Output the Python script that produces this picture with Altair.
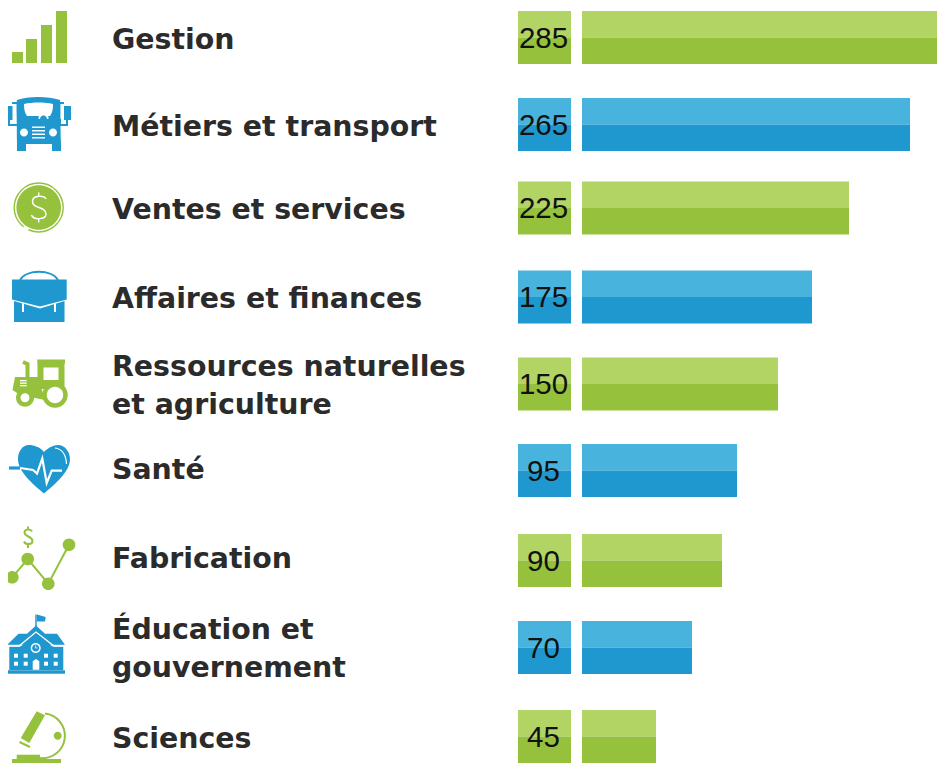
import altair as alt
import pandas as pd

# ---- data
categories = ["Gestion", "Métiers et transport", "Ventes et services", "Affaires et finances",
              "Ressources naturelles\net agriculture", "Santé", "Fabrication",
              "Éducation et\ngouvernement", "Sciences"]
values = [285, 265, 225, 175, 150, 95, 90, 70, 45]
bar_lengths = [363, 328, 267, 230, 196, 155, 140, 110, 74]
families = ["g", "b", "g", "b", "g", "b", "g", "b", "g"]
row_index = list(range(9))
label_rows = [0, 1, 2, 3, 3.78, 4.97, 5.96, 6.776, 8]

GREEN_L, GREEN_D = "#b2d465", "#95c13c"
BLUE_L, BLUE_D = "#48b4de", "#1e98cf"
LIGHT = {"g": GREEN_L, "b": BLUE_L}
DARK = {"g": GREEN_D, "b": BLUE_D}

row_px = [29.5, 116.5, 200, 289, 376, 462.5, 552.5, 639.5, 728.5]
ICON_CX, ICON_X = 37, 29


def icon_paths():
    parts = []

    def origin(row):
        return ICON_CX, row_px[row] + 8

    def add(row, path, fill=None, stroke=None, sw=0):
        parts.append(dict(row=row, path=path, fill=fill or "transparent",
                          stroke=stroke or "transparent", sw=sw))

    def P(row, x, y):
        ox, oy = origin(row)
        return f"{x-ox:.2f},{y-oy:.2f}"

    def poly(row, pts, **kw):
        add(row, "M" + " L".join(P(row, x, y) for x, y in pts) + " Z", **kw)

    def line(row, pts, **kw):
        add(row, "M" + " L".join(P(row, x, y) for x, y in pts), **kw)

    def rect(row, x0, y0, x1, y1, **kw):
        poly(row, [(x0, y0), (x1, y0), (x1, y1), (x0, y1)], **kw)

    def circ(row, cx, cy, r, **kw):
        add(row, f"M{P(row,cx-r,cy)} A{r},{r} 0 1 1 {P(row,cx+r,cy)} A{r},{r} 0 1 1 {P(row,cx-r,cy)} Z", **kw)

    def curve(row, start, segs, closed=False, **kw):
        d = "M" + P(row, *start)
        for a, b, c in segs:
            d += " C" + " ".join(P(row, *p) for p in (a, b, c))
        add(row, d + (" Z" if closed else ""), **kw)

    W = "#ffffff"
    # Gestion
    g = GREEN_D
    for x0, y0 in [(12, 52), (26, 39), (41, 25), (56, 11)]:
        rect(0, x0, y0, x0 + 11, 63, fill=g)
    # Bus
    b = BLUE_D
    rect(1, 6, 106, 12.5, 120, fill=b)
    rect(1, 64, 106, 71, 120, fill=b)
    line(1, [(12, 103), (17, 103)], stroke=b, sw=2)
    line(1, [(59, 103), (64, 103)], stroke=b, sw=2)
    line(1, [(9, 120), (9, 125), (17, 125)], stroke=b, sw=2)
    line(1, [(67, 120), (67, 125), (60, 125)], stroke=b, sw=2)
    curve(1, (17, 144), [((17, 110), (16, 105), (17, 100)),
                         ((28, 96), (48, 96), (60, 100)),
                         ((61, 105), (60, 110), (61, 144))], closed=True, fill=b)
    rect(1, 17, 143, 26, 151, fill=b)
    rect(1, 52, 143, 61, 151, fill=b)
    curve(1, (24, 104), [((33, 102), (44, 102), (53, 104)),
                         ((53, 110), (52, 113), (50, 116)),
                         ((40, 116), (36, 116), (27, 116)),
                         ((25, 113), (24, 110), (24, 104))], closed=True, fill=W)
    circ(1, 43.5, 118, 5, fill=W)
    circ(1, 43.5, 119, 3.5, fill=b)
    rect(1, 17, 119, 61, 125, fill=b)
    circ(1, 24, 132.5, 4, fill=W)
    circ(1, 53, 132.5, 4, fill=W)
    for y in (126.5, 130, 133.5, 137):
        rect(1, 32, y, 45, y + 1.5, fill=W)
    # Dollar
    circ(2, 38.7, 207.5, 24.5, stroke=g, sw=1.4)
    line(2, [(24, 226), (28, 230)], stroke=W, sw=2.5)
    circ(2, 38.7, 207.5, 22.3, fill=g)
    curve(2, (46, 199), [((44, 195), (33, 195), (32.5, 201)),
                         ((32, 209), (46, 206), (46, 214)),
                         ((46, 220), (33, 220), (31.5, 215))], stroke=W, sw=1.5)
    line(2, [(38.7, 192.5), (38.7, 196)], stroke=W, sw=1.5)
    line(2, [(38.7, 219), (38.7, 222.5)], stroke=W, sw=1.5)
    # Briefcase
    poly(3, [(12, 279.5), (66.7, 279.5), (66.7, 299.5), (40, 306.5), (12, 299.5)], fill=b)
    poly(3, [(14, 301), (40, 308.5), (64.5, 301), (64.5, 322), (14, 322)], fill=b)
    curve(3, (20, 280), [((26, 269), (52, 269), (58, 280))], stroke=b, sw=1.8)
    rect(3, 22, 303, 24, 312, fill=W)
    rect(3, 54, 303, 56, 312, fill=W)
    # Tractor
    rect(4, 37.3, 359.5, 65, 363.5, fill=g)
    rect(4, 37.5, 363, 64.5, 389, fill=g)
    rect(4, 43.5, 367.5, 58.5, 380, fill=W)
    poly(4, [(15, 377), (38, 377), (45, 400), (20, 395), (12.5, 390)], fill=g)
    line(4, [(23, 362), (27.5, 364), (27.5, 378)], stroke=g, sw=4)
    circ(4, 55, 395, 12.7, fill=g)
    circ(4, 55, 395, 8.2, fill=W)
    circ(4, 25, 397.7, 9, fill=g)
    circ(4, 25, 397.7, 4.5, fill=W)
    for y in (380, 382.5, 385):
        rect(4, 20, y, 26.7, y + 1.3, fill=W)
    # Heart
    curve(5, (44, 452), [((40, 447), (34, 445), (29, 445)),
                         ((22, 445), (18, 452), (18, 459)),
                         ((18, 472), (33, 484), (44, 493.5)),
                         ((55, 484), (70, 472), (70, 459)),
                         ((70, 452), (65, 445), (58, 445)),
                         ((53, 445), (48, 448), (44, 452))], closed=True, fill=b)
    curve(5, (55, 448), [((62, 449), (66, 455), (66.5, 464))], stroke=W, sw=1.2)
    line(5, [(9, 468), (20, 468)], stroke=b, sw=3.2)
    line(5, [(20, 468), (33, 470), (37, 473.5), (42.3, 458.5), (46.7, 483), (51.7, 470.7), (62, 470.7)],
         stroke=W, sw=2.2)
    # Fabrication
    line(6, [(12.3, 577.3), (27.7, 559), (48.3, 583.7), (69, 544.7)], stroke=g, sw=2)
    for cx, cy in [(12.3, 577.3), (27.7, 559), (48.3, 583.7), (69, 544.7)]:
        circ(6, cx, cy, 6.3, fill=g)
    curve(6, (32, 531.5), [((30.5, 528.5), (24.5, 529), (24.5, 532.5)),
                           ((24.5, 537), (32.5, 536), (32.5, 541)),
                           ((32.5, 545), (25.5, 545), (24, 541.5))], stroke=g, sw=2)
    line(6, [(28, 526.5), (28, 529)], stroke=g, sw=2)
    line(6, [(28, 545), (28, 548)], stroke=g, sw=2)
    # Education
    line(7, [(36, 614.5), (36, 627)], stroke=b, sw=1.5)
    poly(7, [(37, 614.5), (45.7, 617), (45, 621.5), (37, 621.5)], fill=b)
    poly(7, [(7.3, 644.7), (18.5, 633.7), (27, 633.7), (36, 625.5), (45, 633.7), (57, 633.7), (65, 644.7)], fill=b)
    rect(7, 9.3, 646.5, 63.3, 670, fill=b)
    rect(7, 7.3, 670.3, 65, 673.7, fill=b)
    line(7, [(8, 646), (19, 646), (36, 632), (54, 646), (64, 646)], stroke=W, sw=1.3)
    poly(7, [(20, 647), (36, 634), (53, 647), (53, 652), (20, 652)], fill=b)
    circ(7, 35.7, 648, 5, fill=W)
    circ(7, 35.7, 648, 3.6, fill=b)
    line(7, [(35.7, 645.5), (35.7, 648), (37.5, 648)], stroke=W, sw=0.8)
    for x in (16, 25.7, 46, 55.7):
        for y in (655.7, 663.7):
            rect(7, x - 2, y - 2, x + 2, y + 2, fill=W)
    poly(7, [(32.7, 669.7), (39.3, 669.7), (39.3, 661.3), (36, 659), (32.7, 661.3)], fill=W)
    # Sciences
    poly(8, [(36.7, 711.3), (45, 715.3), (29.3, 743), (20.7, 738)], fill=g)
    line(8, [(19.5, 742), (30, 747)], stroke=g, sw=2)
    add(8, f"M{P(8,45,713.5)} A22,22 0 0 1 {P(8,40,758)}", stroke=g, sw=2)
    circ(8, 57.7, 735.7, 4, fill=g)
    rect(8, 16.7, 754.7, 40, 760, fill=g)
    rect(8, 12, 759, 61, 763, fill=g)
    return parts


df = pd.DataFrame(dict(row=row_index, value=values, length=bar_lengths, family=families,
                       label=categories, label_row=label_rows))
df["light"] = df.family.map(LIGHT)
df["dark"] = df.family.map(DARK)

y_scale = alt.Scale(domain=row_index, range=row_px, padding=0, nice=False, zero=False)
x_scale = alt.Scale(domain=[0, 363], range=[574, 937])
Y = alt.Y("row:Q", scale=y_scale, axis=None)
X = alt.X("length:Q", scale=x_scale, axis=None)


def half_bars(colour_field, offset):
    bars = alt.Chart(df).mark_bar(size=26.5, yOffset=offset, orient="horizontal").encode(
        x=X, y=Y, color=alt.Color(f"{colour_field}:N", scale=None))
    tiles = alt.Chart(df).mark_bar(size=26.5, yOffset=offset, orient="horizontal").encode(
        x=alt.value(510), x2=alt.value(563), y=Y, color=alt.Color(f"{colour_field}:N", scale=None))
    return bars + tiles


numbers = alt.Chart(df).mark_text(font="Liberation Sans", fontSize=29.5, color="#111111",
                                  align="center", baseline="middle", dy=1).encode(
    x=alt.value(535.5), y=Y, text="value:Q")

labels = alt.Chart(df).mark_text(font="DejaVu Sans", fontWeight=700, fontSize=28.4, color="#2b2b2b",
                                 align="left", baseline="middle", lineBreak="\n", lineHeight=38, dy=2).encode(
    x=alt.value(104), y=alt.Y("label_row:Q", scale=y_scale, axis=None), text="label:N")

icons = alt.Chart(pd.DataFrame(icon_paths())).mark_point(filled=True, size=4, opacity=1).encode(
    x=alt.value(ICON_X), y=Y,
    shape=alt.Shape("path:N", scale=None, legend=None),
    fill=alt.Fill("fill:N", scale=None),
    stroke=alt.Stroke("stroke:N", scale=None),
    strokeWidth=alt.StrokeWidth("sw:Q", scale=None),
)

chart = (half_bars("light", -13.25) + half_bars("dark", 13.25) + numbers + labels + icons).properties(
    width=929, height=755, padding=0, background="white",
    autosize=alt.AutoSizeParams(type="none"),
).configure_view(stroke=None)

chart.save("out.html", embed_options={"renderer": "svg", "actions": False})
